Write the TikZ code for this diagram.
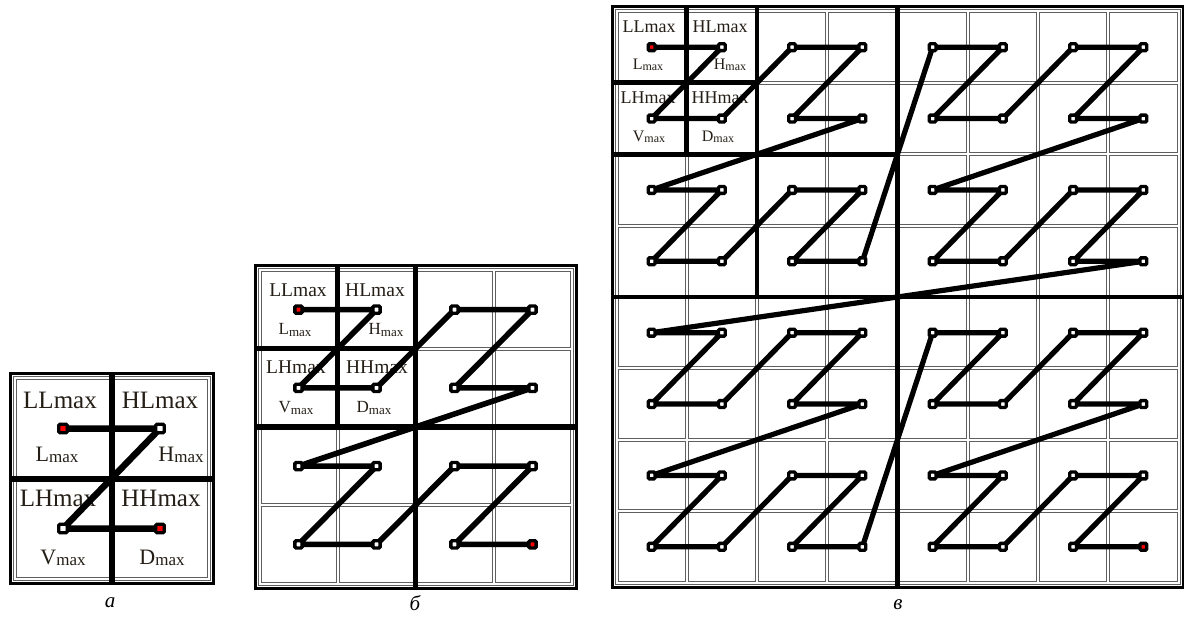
\documentclass[tikz,border=0pt]{standalone}
\usepackage{fontspec}
\setmainfont{Liberation Serif}
\definecolor{txt}{RGB}{36,30,22}
\definecolor{cellgray}{RGB}{95,95,95}
\tikzset{
  outerframe/.style={draw=black,line width=3},
  innerframe/.style={draw=cellgray,line width=1},
  cellbox/.style={draw=cellgray,line width=1},
  zline/.style={draw=black,line width=#1,line join=round,line cap=round},
  mk/.style={rectangle,draw=black,fill=white,line width=3.4,rounded corners=1.2,minimum size=#1,inner sep=0},
  mkred/.style={mk=#1,fill=red},
  lbl/.style={text=txt,inner sep=0,anchor=center},
  captxt/.style={inner sep=0,anchor=center,font=\fontsize{21}{21}\selectfont\itshape}
}
% grid, dividers and Z-order coordinates of one panel (drawn in a shifted scope)
\newcommand{\zgrid}[6]{% #1 prefix, #2 n, #3 W, #4 H, #5 divider width, #6 block sizes
  \pgfmathsetmacro\zcw{(#3-9)/#2}
  \pgfmathsetmacro\zch{(#4-9)/#2}
  \pgfmathtruncatemacro\znm{#2-1}
  \foreach \i in {0,...,\znm}{\foreach \j in {0,...,\znm}{
    \draw[cellbox] ({6+\i*\zcw},{6+\j*\zch}) rectangle ({3+(\i+1)*\zcw},{3+(\j+1)*\zch});
  }}
  \draw[innerframe] (3,3) rectangle (#3-3,#4-3);
  \draw[outerframe] (0,0) rectangle (#3,#4);
  \foreach \s in {#6}{
    \pgfmathsetmacro\zvx{4.5+\s/2*\zcw}
    \pgfmathsetmacro\zhy{4.5+\s/2*\zch}
    \pgfmathsetmacro\zex{\s==#2 ? #3 : 4.5+\s*\zcw}
    \pgfmathsetmacro\zey{\s==#2 ? #4 : 4.5+\s*\zch}
    \draw[line width=#5] (\zvx,0) -- (\zvx,\zey);
    \draw[line width=#5] (0,\zhy) -- (\zex,\zhy);
  }
  \pgfmathtruncatemacro\zN{#2*#2-1}
  \foreach \k in {0,...,\zN}{
    \pgfmathtruncatemacro\zpx{mod(\k,2)+2*mod(int(\k/4),2)+4*mod(int(\k/16),2)}
    \pgfmathtruncatemacro\zpy{mod(int(\k/2),2)+2*mod(int(\k/8),2)+4*mod(int(\k/32),2)}
    \coordinate (#1-\k) at ({4.5+(\zpx+0.5)*\zcw},{4.5+(\zpy+0.5)*\zch});
  }
}
% the Z curve through the coordinates and its markers
\newcommand{\zcurve}[4]{% #1 prefix, #2 last index, #3 line width, #4 marker size
  \draw[zline=#3] (#1-0) \foreach \k in {1,...,#2}{ -- (#1-\k)};
  \pgfmathtruncatemacro\zM{#2-1}
  \foreach \k in {1,...,\zM}{\node[mk=#4] (#1-m\k) at (#1-\k) {};}
  \node[mkred=#4] (#1-start) at (#1-0) {};
  \node[mkred=#4] (#1-end) at (#1-#2) {};
}
\newcommand{\sublbl}[4]{{\fontsize{#1}{#1}\selectfont #3}\raisebox{-0.35ex}{\fontsize{#2}{#2}\selectfont #4}}
\begin{document}
\begin{tikzpicture}[x=1pt,y=-1pt]
\useasboundingbox[fill=white] (0,0) rectangle (1184,620);

% ---------- panel a ----------
\begin{scope}[shift={(10,374)}]
  \zgrid{A}{2}{203}{209}{6}{2}
\end{scope}
\node[lbl,font=\fontsize{25}{25}\selectfont] (a1) at (60,400) {LLmax};
\node[lbl,font=\fontsize{25}{25}\selectfont] (a2) at (160,400) {HLmax};
\node[lbl,font=\fontsize{25}{25}\selectfont] (a3) at (58,498) {LHmax};
\node[lbl,font=\fontsize{25}{25}\selectfont] (a4) at (161,498) {HHmax};
\node[lbl] (a5) at (57,455) {\sublbl{22}{17}{L}{max}};
\node[lbl] (a6) at (181,455) {\sublbl{22}{17}{H}{max}};
\node[lbl] (a7) at (63,558) {\sublbl{22}{17}{V}{max}};
\node[lbl] (a8) at (162,558) {\sublbl{22}{17}{D}{max}};
\zcurve{A}{3}{6.5}{8.5}

% ---------- panel b ----------
\begin{scope}[shift={(255,266)}]
  \zgrid{B}{4}{321}{322}{5.2}{4,2}
\end{scope}
\node[lbl,font=\fontsize{19.5}{19.5}\selectfont] (b1) at (298,290) {LLmax};
\node[lbl,font=\fontsize{19.5}{19.5}\selectfont] (b2) at (375,290) {HLmax};
\node[lbl,font=\fontsize{19.5}{19.5}\selectfont] (b3) at (296,367) {LHmax};
\node[lbl,font=\fontsize{19.5}{19.5}\selectfont] (b4) at (377,367) {HHmax};
\node[lbl] (b5) at (295,330) {\sublbl{17}{13}{L}{max}};
\node[lbl] (b6) at (386,330) {\sublbl{17}{13}{H}{max}};
\node[lbl] (b7) at (296,408) {\sublbl{17}{13}{V}{max}};
\node[lbl] (b8) at (374,408) {\sublbl{17}{13}{D}{max}};
\zcurve{B}{15}{5.6}{7.2}

% ---------- panel c ----------
\begin{scope}[shift={(612,7)}]
  \zgrid{C}{8}{571}{580}{4.8}{8,4,2}
\end{scope}
\node[lbl,font=\fontsize{18}{18}\selectfont] (c1) at (649,27) {LLmax};
\node[lbl,font=\fontsize{18}{18}\selectfont] (c2) at (720,27) {HLmax};
\node[lbl,font=\fontsize{18}{18}\selectfont] (c3) at (648,98) {LHmax};
\node[lbl,font=\fontsize{18}{18}\selectfont] (c4) at (720,98) {HHmax};
\node[lbl] (c5) at (648,65) {\sublbl{16}{12}{L}{max}};
\node[lbl] (c6) at (730,65) {\sublbl{16}{12}{H}{max}};
\node[lbl] (c7) at (649,137) {\sublbl{16}{12}{V}{max}};
\node[lbl] (c8) at (718,137) {\sublbl{16}{12}{D}{max}};
\zcurve{C}{63}{5.2}{6.8}

% ---------- captions ----------
\node[captxt] (capa) at (110,603) {а};
\node[captxt] (capb) at (415,603) {б};
\node[captxt] (capc) at (898,605) {в};
\end{tikzpicture}
\end{document}
